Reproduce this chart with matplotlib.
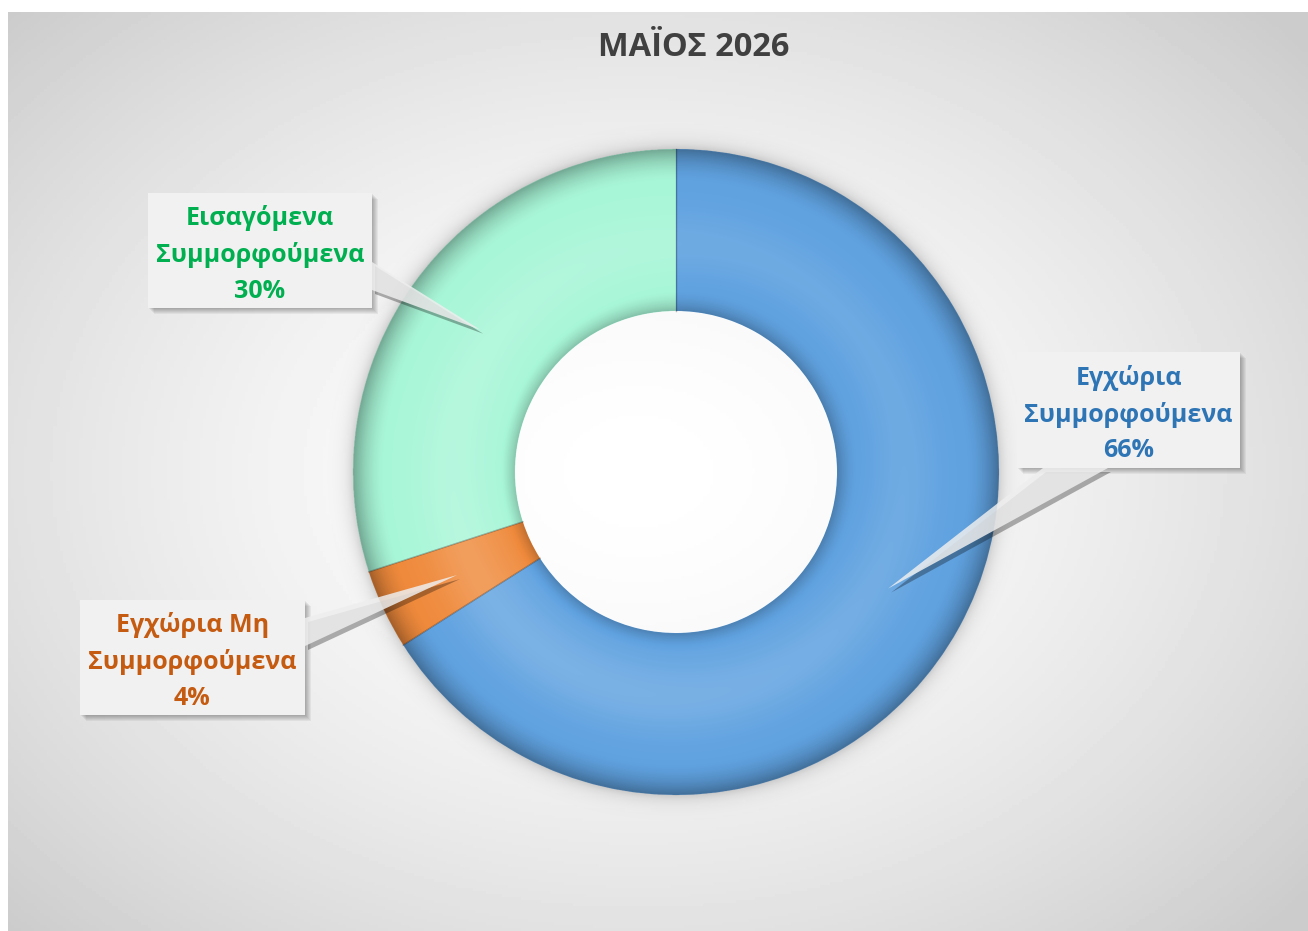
import numpy as np
import matplotlib.pyplot as plt
from matplotlib.patches import Rectangle, Polygon, Wedge

plt.rcParams['font.family'] = ['Open Sans', 'DejaVu Sans']

W, H = 1308, 931

title = "ΜΑΪΟΣ 2026"
labels = ["Εγχώρια\nΣυμμορφούμενα", "Εγχώρια Μη\nΣυμμορφούμενα", "Εισαγόμενα\nΣυμμορφούμενα"]
values = [66, 4, 30]
colors = ["#60a2e0", "#ef8a3c", "#a8f6d8"]
text_colors = ["#2e75b6", "#c55a11", "#00b050"]

# label boxes (left, top, width, height) in pixels from top-left
boxes = [(1017, 352, 223, 116), (80, 600, 225, 115), (148, 193, 224, 115)]
# where the pointer leaves the box
bases = [((1043, 468), (1108, 468)), ((305, 618), (305, 646)), ((372, 262), (372, 290))]

cx, cy = 676, H - 472
r_out, r_in = 323, 161


def py(y):
    return H - y


fig = plt.figure(figsize=(W / 100, H / 100), dpi=100)
fig.patch.set_facecolor("white")

# background radial gradient of the chart area
bg = fig.add_axes([8 / W, 0, (W - 8) / W, (H - 12) / H])
bg.axis("off")
gx, gy = np.meshgrid(np.linspace(-1, 1, 400), np.linspace(-1, 1, 300))
d = np.sqrt((gx + 0.03) ** 2 + (gy * 0.95) ** 2)
shade = 1.0 - 0.2 * np.clip(d / 1.35, 0, 1) ** 1.6
bg.imshow(shade, cmap="gray", vmin=0, vmax=1, aspect="auto", extent=(0, 1, 0, 1))
bg.set_xlim(0, 1)
bg.set_ylim(0, 1)

ax = fig.add_axes([0, 0, 1, 1])
ax.set_facecolor("none")

wedges, _ = ax.pie(values, colors=colors, startangle=90, counterclock=False,
                   radius=r_out, center=(cx, cy),
                   wedgeprops=dict(width=r_out - r_in, edgecolor="none"))

# bevel shading + soft halo as one overlay image
ext = r_out + 30
n = 2 * ext * 2
xs = np.linspace(-ext, ext, n)
X, Y = np.meshgrid(xs, xs)
R = np.hypot(X, Y)
ang = np.arctan2(Y, X)
t = (R - r_in) / (r_out - r_in)
s = np.zeros_like(R)
ring = (t >= 0) & (t <= 1)
tt = np.clip(t, 0, 1)
prof = (-0.32 * np.clip((tt - 0.78) / 0.22, 0, 1) ** 2
        - 0.22 * np.clip((0.14 - tt) / 0.14, 0, 1) ** 2
        + 0.13 * np.exp(-((tt - 0.4) / 0.22) ** 2)
        + 0.05 * np.cos(ang - np.deg2rad(225)) * np.exp(-((tt - 0.3) / 0.3) ** 2))
s[ring] = prof[ring]
halo = (R > r_out)
s[halo] = -0.16 * np.exp(-(R[halo] - r_out) / 7.0)
rgba = np.zeros(R.shape + (4,))
rgba[..., :3] = (s > 0)[..., None] * 1.0
rgba[..., 3] = np.abs(s)
im = ax.imshow(rgba, extent=(cx - ext, cx + ext, cy - ext, cy + ext), origin="lower",
               interpolation="bilinear", zorder=3)
clip = Wedge((cx, cy), r_out + 30, 0, 360, width=r_out + 30 - r_in,
             facecolor="none", edgecolor="none")
ax.add_patch(clip)
im.set_clip_path(clip)

# separators between slices
for w in wedges:
    for th in (w.theta1, w.theta2):
        a = np.deg2rad(th)
        ax.plot([cx + r_in * np.cos(a), cx + r_out * np.cos(a)],
                [cy + r_in * np.sin(a), cy + r_out * np.sin(a)],
                color="black", alpha=0.15, lw=1, zorder=4)

# callouts
r_mid = (r_out + r_in) / 2
for w, lab, v, tc, (bx, by, bw, bh), (b1, b2) in zip(wedges, labels, values,
                                                      text_colors, boxes, bases):
    a = np.deg2rad((w.theta1 + w.theta2) / 2)
    tip = (cx + r_mid * np.cos(a), cy + r_mid * np.sin(a))
    p1 = (b1[0], py(b1[1]))
    p2 = (b2[0], py(b2[1]))
    ax.add_patch(Polygon([(p1[0] + 3, p1[1] - 4), (p2[0] + 3, p2[1] - 4), (tip[0] + 3, tip[1] - 4)],
                         closed=True, color="black", alpha=0.3, lw=0, zorder=5))
    for k in range(6, 0, -1):
        ax.add_patch(Rectangle((bx + k, py(by + bh) - k), bw, bh,
                               color="black", alpha=0.05, lw=0, zorder=5))
    ax.add_patch(Rectangle((bx, py(by + bh)), bw, bh, facecolor="#f1f1f1",
                           edgecolor="none", zorder=6))
    ax.add_patch(Polygon([p1, p2, tip], closed=True, facecolor="#eeeeee",
                         edgecolor="none", alpha=0.85, zorder=6))
    ax.text(bx + bw / 2, py(by + bh / 2 + 4), f"{lab}\n{v}%", ha="center", va="center",
            color=tc, fontsize=18, fontweight="bold", linespacing=1.55, zorder=7)

ax.text(694, py(48), title, ha="center", va="center", fontsize=23.5,
        fontweight="bold", color="#404040")

ax.set_xlim(0, W)
ax.set_ylim(0, H)
ax.set_aspect("equal")
ax.axis("off")

fig.savefig("out.png", dpi=100)
